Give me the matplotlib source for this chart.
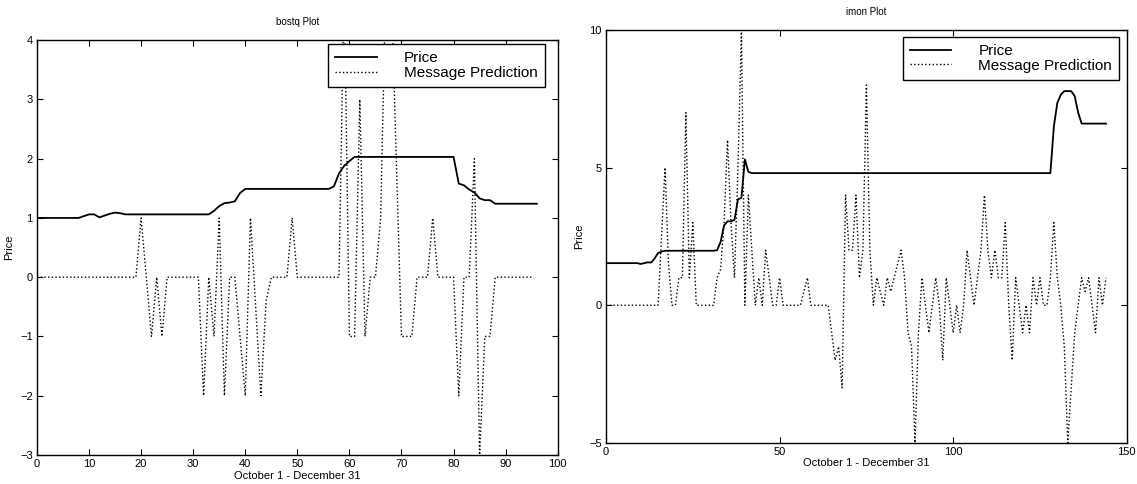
import matplotlib
matplotlib.use("Agg")
import matplotlib.pyplot as plt
import numpy as np

plt.rcParams['font.family'] = ['Liberation Sans', 'DejaVu Sans']

# bostq: daily price and message prediction
bostq_days = np.arange(0, 97)
bostq_price = [1.0, 1.0, 1.0, 1.0, 1.0, 1.0, 1.0, 1.0, 1.0, 1.03,
               1.06, 1.06, 1.01, 1.04, 1.07, 1.09, 1.08, 1.06, 1.06, 1.06,
               1.06, 1.06, 1.06, 1.06, 1.06, 1.06, 1.06, 1.06, 1.06, 1.06,
               1.06, 1.06, 1.06, 1.06, 1.12, 1.2, 1.25, 1.26, 1.28, 1.42,
               1.49, 1.49, 1.49, 1.49, 1.49, 1.49, 1.49, 1.49, 1.49, 1.49,
               1.49, 1.49, 1.49, 1.49, 1.49, 1.49, 1.49, 1.53, 1.75, 1.88,
               1.96, 2.03, 2.03, 2.03, 2.03, 2.03, 2.03, 2.03, 2.03, 2.03,
               2.03, 2.03, 2.03, 2.03, 2.03, 2.03, 2.03, 2.03, 2.03, 2.03,
               2.03, 1.58, 1.55, 1.48, 1.43, 1.33, 1.3, 1.3, 1.24, 1.24,
               1.24, 1.24, 1.24, 1.24, 1.24, 1.24, 1.24]
bostq_msg = [0, 0, 0, 0, 0, 0, 0, 0, 0, 0,
             0, 0, 0, 0, 0, 0, 0, 0, 0, 0,
             1, 0, -1, 0, -1, 0, 0, 0, 0, 0,
             0, 0, -2, 0, -1, 1, -2, 0, 0, -1,
             -2, 1, -0.5, -2, -0.4, 0, 0, 0, 0, 1,
             0, 0, 0, 0, 0, 0, 0, 0, 0, 5,
             -1, -1, 3, -1, 0, 0, 1, 5, 5, 2,
             -1, -1, -1, 0, 0, 0, 1, 0, 0, 0,
             0, -2, 0, 0, 2, -3, -1, -1, 0, 0,
             0, 0, 0, 0, 0, 0]

# imon: daily price and message prediction
imon_days = np.arange(0, 145)
imon_price = [1.53, 1.53, 1.53, 1.53, 1.53, 1.53, 1.53, 1.53, 1.53, 1.53,
              1.5, 1.53, 1.56, 1.55, 1.7, 1.9, 1.95, 1.98, 1.98, 1.98,
              1.98, 1.98, 1.98, 1.98, 1.98, 1.98, 1.98, 1.98, 1.98, 1.98,
              1.98, 1.98, 2.0, 2.3, 2.9, 3.05, 3.05, 3.1, 3.85, 3.9,
              5.3, 4.85, 4.8, 4.8, 4.8, 4.8, 4.8, 4.8, 4.8, 4.8] \
             + [4.8] * 79 \
             + [6.5, 7.35, 7.65, 7.78, 7.78, 7.78, 7.6, 7.0, 6.6, 6.6,
                6.6, 6.6, 6.6, 6.6, 6.6, 6.6]
imon_msg = [0, 0, 0, 0, 0, 0, 0, 0, 0, 0,
            0, 0, 0, 0, 0, 0, 2.5, 5, 1.5, 0,
            0, 1, 1, 7, 1, 3, 0, 0, 0, 0,
            0, 0, 1, 1.3, 3, 6, 3, 1, 5, 10,
            0, 4, 2, 0, 1, 0, 2, 1, 0, 0,
            1, 0, 0, 0, 0, 0, 0, 0.5, 1, 0,
            0, 0, 0, 0, 0, -1, -2, -1.5, -3, 4,
            2, 2, 4, 1, 2, 8, 2, 0, 1, 0.5,
            0, 1, 0.5, 1, 1.5, 2, 1, -1, -1.5, -5,
            -1, 1, 0, -1, 0, 1, 0, -2, 1, 0,
            -1, 0, -1, 0, 2, 1, 0, 1, 2, 4,
            2, 1, 2, 1, 1, 3, 0, -2, 1, 0,
            -1, 0, -1, 1, 0, 1, 0, 0, 1, 3,
            1, 0, -1.5, -5, -3, -1, 0, 1, 0.5, 1,
            0, -1, 1, 0, 1]

fig = plt.figure(figsize=(11.37, 4.84), dpi=100)


def matlab_axes(ax, title, xlim, ylim, xticks, yticks):
    ax.set_xlim(*xlim)
    ax.set_ylim(*ylim)
    ax.set_xticks(xticks)
    ax.set_yticks(yticks)
    ax.tick_params(direction='in', top=True, right=True, length=4,
                   labelsize=8, width=0.8, pad=3)
    for s in ax.spines.values():
        s.set_linewidth(1.0)
    ax.set_title(title, fontsize=7, pad=11)
    ax.set_xlabel('October 1 - December 31', fontsize=8, labelpad=1)
    ax.set_ylabel('Price', fontsize=8, labelpad=4)


def matlab_legend(ax, anchor):
    leg = ax.legend(loc='upper right', bbox_to_anchor=anchor,
                    fontsize=11, frameon=True, fancybox=False, framealpha=1,
                    edgecolor='black', handlelength=2.7, handletextpad=1.8,
                    borderpad=0.45, borderaxespad=0.0, labelspacing=0.05)
    leg.get_frame().set_linewidth(1.0)
    return leg


ax1 = fig.add_axes([0.0325, 0.06, 0.458, 0.857])
ax1.plot(bostq_days, bostq_price, color='black', lw=1.3, label='Price')
ax1.plot(bostq_days[:len(bostq_msg)], bostq_msg, color='black', lw=1.0,
         ls=':', label='Message Prediction')
matlab_axes(ax1, 'bostq Plot', (0, 100), (-3, 4), np.arange(0, 101, 10),
            np.arange(-3, 5, 1))
matlab_legend(ax1, (0.975, 0.99))

ax2 = fig.add_axes([0.533, 0.085, 0.458, 0.853])
ax2.plot(imon_days, imon_price, color='black', lw=1.3, label='Price')
ax2.plot(imon_days, imon_msg, color='black', lw=1.0, ls=':',
         label='Message Prediction')
matlab_axes(ax2, 'imon Plot', (0, 150), (-5, 10), [0, 50, 100, 150],
            [-5, 0, 5, 10])
matlab_legend(ax2, (0.985, 0.983))

fig.savefig('out.png', dpi=100)
